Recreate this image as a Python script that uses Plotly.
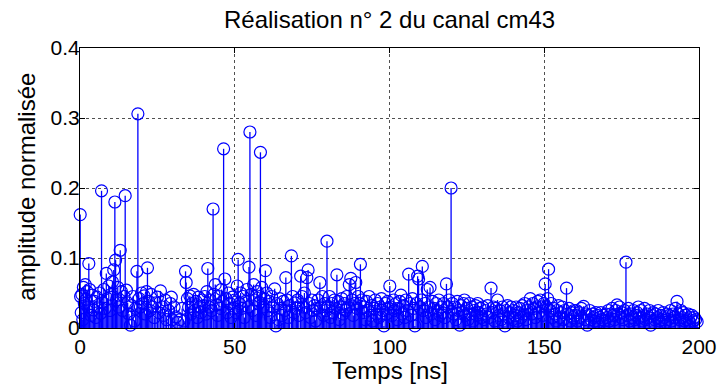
import plotly.graph_objects as go

# ---- data: stem plot, time in ns, normalised amplitude ----
t_seg1 = [0.06, 0.2, 0.4, 0.6, 0.9, 1.1, 1.4, 1.7, 2.0, 2.3, 2.6, 2.85, 3.1, 3.5, 3.9, 4.3, 4.7, 5.1, 5.5, 5.9,
          6.3, 6.7, 6.96, 7.3, 7.7, 8.1, 8.5, 8.9, 9.3, 9.7,
          10.1, 10.5, 10.9, 11.26, 11.5, 11.8, 12.2, 12.6, 13.0, 13.4, 13.8, 14.2, 14.6, 15.0, 15.4, 15.8, 16.3,
          16.7, 17.1, 17.6, 18.0, 18.4, 18.7, 19.1, 19.5, 19.9,
          20.3, 20.7, 21.1, 21.5, 21.8, 22.2, 22.6, 23.0, 23.5, 24.0, 24.5, 25.0, 25.5, 26.0, 26.5, 27.0, 27.5,
          28.0, 28.6, 29.2, 29.5, 29.8,
          30.4, 31.0, 31.6, 32.3, 33.0, 33.6, 34.1, 34.3, 34.7, 35.1, 35.5, 35.9, 36.3, 36.7, 37.1, 37.5, 37.9,
          38.3, 38.7, 39.1, 39.5, 39.9,
          40.3, 40.7, 41.0, 41.3, 41.7, 42.1, 42.5, 43.0, 43.3, 43.7, 44.1, 44.5, 44.9, 45.3, 45.7, 46.1, 46.4,
          46.8, 47.2, 47.6, 48.0, 48.4, 48.8, 49.2, 49.6]
a_seg1 = [0.162, 0.045, 0.022, 0.048, 0.012, 0.058, 0.035, 0.062, 0.041, 0.052, 0.030, 0.092, 0.055, 0.018, 0.047,
          0.026, 0.038, 0.015, 0.044, 0.030, 0.050, 0.021, 0.196, 0.036, 0.055, 0.028, 0.078, 0.042, 0.060, 0.025,
          0.048, 0.066, 0.083, 0.180, 0.097, 0.040, 0.058, 0.030, 0.111, 0.052, 0.025, 0.045, 0.189, 0.054, 0.036,
          0.020, 0.004, 0.032, 0.045, 0.010, 0.028, 0.081, 0.306, 0.042, 0.030, 0.050,
          0.035, 0.046, 0.020, 0.052, 0.086, 0.038, 0.025, 0.048, 0.030, 0.015, 0.036, 0.044, 0.022, 0.053, 0.030,
          0.018, 0.040, 0.012, 0.025, 0.035, 0.044, 0.012,
          0.030, 0.016, 0.008, 0.012, 0.028, 0.010, 0.081, 0.065, 0.042, 0.030, 0.046, 0.020, 0.035, 0.048, 0.025,
          0.038, 0.015, 0.044, 0.030, 0.022, 0.040, 0.032,
          0.045, 0.020, 0.052, 0.085, 0.030, 0.040, 0.025, 0.170, 0.048, 0.062, 0.033, 0.018, 0.045, 0.028, 0.055,
          0.038, 0.256, 0.070, 0.042, 0.022, 0.050, 0.035, 0.015, 0.044, 0.028]

t_seg2 = [50.0, 50.4, 50.8, 51.1, 51.5, 51.9, 52.3, 52.7, 53.1, 53.5, 53.9, 54.3, 54.6, 54.9, 55.3, 55.7, 56.1, 56.5,
          56.9, 57.3, 57.7, 58.0, 58.3, 58.7, 59.1, 59.5, 59.9,
          60.3, 60.7, 61.1, 61.5, 61.9, 62.3, 62.9, 63.3, 63.7, 64.1, 64.5, 64.9, 65.3, 65.7, 66.1, 66.5, 66.9,
          67.3, 67.7, 68.3, 68.7, 69.1, 69.5, 69.9,
          70.3, 70.7, 71.3, 71.7, 72.1, 72.5, 72.9, 73.3, 73.7, 74.1, 74.5, 74.9, 75.3, 75.7, 76.1, 76.5, 76.9,
          77.5, 77.9, 78.3, 78.7, 79.1, 79.5, 79.8,
          80.2, 80.6, 81.0, 81.4, 81.8, 82.2, 82.6, 83.0, 83.4, 83.8, 84.2, 84.6, 85.0, 85.4, 85.8, 86.2, 86.6,
          87.0, 87.5, 87.9, 88.3, 88.7, 89.1, 89.5, 89.9,
          90.3, 90.6, 91.0, 91.4, 91.8, 92.2, 92.6, 93.0, 93.4, 93.8, 94.2, 94.6, 95.0, 95.4, 95.8, 96.2, 96.6,
          97.0, 97.4, 97.8, 98.2, 98.6, 99.0, 99.4, 99.8]
a_seg2 = [0.040, 0.022, 0.060, 0.098, 0.035, 0.050, 0.028, 0.045, 0.015, 0.038, 0.055, 0.030, 0.087, 0.280, 0.048,
          0.025, 0.062, 0.040, 0.018, 0.052, 0.035, 0.045, 0.251, 0.058, 0.030, 0.042, 0.082,
          0.050, 0.025, 0.038, 0.015, 0.045, 0.030, 0.056, 0.003, 0.035, 0.012, 0.042, 0.028, 0.018, 0.038, 0.025,
          0.072, 0.040, 0.015, 0.032, 0.103, 0.045, 0.022, 0.036, 0.028,
          0.040, 0.018, 0.074, 0.045, 0.030, 0.050, 0.022, 0.072, 0.083, 0.035, 0.015, 0.040, 0.025, 0.032, 0.010,
          0.028, 0.040, 0.065, 0.030, 0.045, 0.018, 0.035, 0.025, 0.124,
          0.030, 0.045, 0.015, 0.035, 0.022, 0.040, 0.028, 0.076, 0.038, 0.012, 0.030, 0.042, 0.020, 0.035, 0.025,
          0.045, 0.030, 0.062, 0.071, 0.040, 0.018, 0.035, 0.065, 0.028, 0.045,
          0.035, 0.091, 0.040, 0.022, 0.030, 0.012, 0.038, 0.025, 0.045, 0.018, 0.032, 0.010, 0.028, 0.040, 0.020,
          0.035, 0.015, 0.030, 0.042, 0.025, 0.003, 0.035, 0.020, 0.038, 0.028]

t_seg3 = [100.1, 100.5, 100.9, 101.3, 101.7, 102.1, 102.5, 102.9, 103.3, 103.7, 104.1, 104.5, 104.9, 105.3, 105.7,
          106.2, 106.6, 107.0, 107.4, 107.8, 108.2, 108.6, 109.1, 109.4, 109.8,
          110.2, 110.6, 111.0, 111.4, 111.8, 112.2, 112.6, 113.1, 113.5, 113.9, 114.3, 114.7, 115.1, 115.5, 115.9,
          116.3, 116.7, 117.1, 117.5, 117.9, 118.4, 118.8, 119.2, 119.9,
          120.3, 120.7, 121.1, 121.5, 121.9, 122.3, 122.7, 123.1, 123.5, 123.9, 124.2, 124.6, 125.0, 125.4, 125.8,
          126.2, 126.6, 127.0, 127.4, 127.8, 128.2, 128.5, 128.9, 129.3, 129.7,
          130.1, 130.5, 130.9, 131.3, 131.7, 132.1, 132.8, 133.2, 133.6, 134.0, 134.4, 134.9, 135.3, 135.7, 136.1,
          136.5, 136.9, 137.3, 137.7, 138.1, 138.5, 138.9, 139.3, 139.7,
          140.1, 140.5, 140.9, 141.3, 141.7, 142.1, 142.5, 142.9, 143.3, 143.7, 144.1, 144.5, 144.9, 145.5, 145.9,
          146.3, 146.7, 147.1, 147.5, 147.9, 148.3, 148.7, 149.1, 149.5, 149.9]
a_seg3 = [0.060, 0.030, 0.018, 0.040, 0.025, 0.035, 0.012, 0.028, 0.038, 0.047, 0.020, 0.032, 0.015, 0.040, 0.025,
          0.077, 0.035, 0.018, 0.042, 0.028, 0.003, 0.035, 0.074, 0.070, 0.030,
          0.040, 0.088, 0.025, 0.035, 0.015, 0.055, 0.030, 0.058, 0.020, 0.038, 0.028, 0.012, 0.035, 0.025, 0.040,
          0.018, 0.030, 0.022, 0.035, 0.015, 0.063, 0.030, 0.040, 0.200,
          0.035, 0.020, 0.030, 0.012, 0.038, 0.025, 0.004, 0.032, 0.022, 0.035, 0.040, 0.018, 0.028, 0.012, 0.035,
          0.020, 0.030, 0.010, 0.025, 0.032, 0.018, 0.035, 0.022, 0.028, 0.015,
          0.030, 0.012, 0.025, 0.020, 0.032, 0.015, 0.057, 0.022, 0.030, 0.010, 0.028, 0.040, 0.018, 0.025, 0.012,
          0.030, 0.020, 0.003, 0.025, 0.032, 0.015, 0.022, 0.030, 0.012,
          0.025, 0.018, 0.030, 0.010, 0.022, 0.028, 0.015, 0.032, 0.020, 0.035, 0.012, 0.025, 0.030, 0.042, 0.020,
          0.035, 0.028, 0.015, 0.030, 0.038, 0.022, 0.040, 0.030, 0.018, 0.035]

t_seg4 = [150.3, 150.7, 151.1, 151.4, 151.8, 152.2, 152.6, 153.0, 153.4, 153.8, 154.2, 154.6, 155.0, 155.4, 155.8,
          156.2, 156.6, 157.2, 157.6, 158.0, 158.4, 158.8, 159.2, 159.6,
          160.0, 160.4, 160.8, 161.2, 161.6, 162.0, 162.7, 163.1, 163.5, 163.9, 164.3, 164.7, 165.1, 165.5, 165.9,
          166.3, 166.7, 167.1, 167.5, 167.9, 168.3, 168.7, 169.1, 169.5, 169.9,
          170.3, 170.7, 171.1, 171.5, 171.9, 172.3, 172.7, 173.1, 173.5, 173.9, 174.3, 174.7, 175.1, 175.5, 175.9,
          176.4, 176.8, 177.2, 177.6, 178.0, 178.4, 178.8, 179.2, 179.6,
          180.0, 180.4, 180.8, 181.2, 181.6, 182.0, 182.4, 182.8, 183.2, 183.6, 184.0, 184.4, 184.8, 185.2, 185.6,
          186.0, 186.4, 186.8, 187.2, 187.6, 188.0, 188.4, 188.8, 189.2, 189.6,
          190.0, 190.4, 190.8, 191.2, 191.6, 192.0, 192.4, 192.9, 193.3, 193.7, 194.1, 194.5, 194.9, 195.3, 195.7,
          196.1, 196.5, 196.9, 197.3, 197.7, 198.1, 198.5, 198.9, 199.4]
a_seg4 = [0.063, 0.030, 0.042, 0.084, 0.025, 0.035, 0.015, 0.028, 0.020, 0.010, 0.025, 0.032, 0.015, 0.022, 0.030,
          0.012, 0.025, 0.057, 0.020, 0.028, 0.010, 0.022, 0.015, 0.025,
          0.018, 0.025, 0.010, 0.022, 0.015, 0.028, 0.031, 0.012, 0.020, 0.004, 0.018, 0.025, 0.012, 0.020, 0.015,
          0.010, 0.022, 0.018, 0.008, 0.015, 0.022, 0.012, 0.018, 0.010, 0.020,
          0.015, 0.025, 0.010, 0.020, 0.028, 0.018, 0.012, 0.025, 0.033, 0.020, 0.030, 0.015, 0.022, 0.012, 0.025,
          0.094, 0.018, 0.028, 0.010, 0.020, 0.015, 0.025, 0.012, 0.018,
          0.022, 0.030, 0.015, 0.025, 0.010, 0.018, 0.028, 0.012, 0.020, 0.015, 0.025, 0.004, 0.018, 0.022, 0.012,
          0.020, 0.015, 0.025, 0.010, 0.018, 0.012, 0.022, 0.015, 0.008, 0.020,
          0.012, 0.018, 0.025, 0.010, 0.020, 0.015, 0.028, 0.038, 0.020, 0.012, 0.025, 0.015, 0.022, 0.010, 0.018,
          0.012, 0.020, 0.008, 0.015, 0.018, 0.010, 0.015, 0.012, 0.009]

x_ticks = [0, 50, 100, 150, 200]
y_ticks = [0, 0.1, 0.2, 0.3, 0.4]
y_tick_labels = ["0", "0.1", "0.2", "0.3", "0.4"]

title_text = "Réalisation n° 2 du canal cm43"
x_title = "Temps [ns]"
y_title = "amplitude normalisée"

time_ns = t_seg1 + t_seg2 + t_seg3 + t_seg4
amplitude = a_seg1 + a_seg2 + a_seg3 + a_seg4

BLUE = "rgb(0,0,255)"
FONT = "Liberation Sans, Arial, Helvetica, sans-serif"

fig = go.Figure()
fig.add_trace(go.Scatter(
    x=time_ns, y=amplitude, mode="markers",
    marker=dict(symbol="circle-open", size=12, color=BLUE, line=dict(width=1.2, color=BLUE)),
    error_y=dict(type="data", symmetric=False, array=[0] * len(amplitude), arrayminus=amplitude,
                 width=0, thickness=1.3, color=BLUE),
    cliponaxis=False, showlegend=False, hoverinfo="x+y",
))

fig.update_layout(
    width=721, height=387,
    margin=dict(l=80, r=22, t=48, b=59, autoexpand=False),
    paper_bgcolor="white", plot_bgcolor="white",
    font=dict(family=FONT, color="black", size=21),
    annotations=[
        dict(text=title_text, xref="paper", yref="paper", x=0.5008, y=1.102, xanchor="center", yanchor="middle",
             showarrow=False, font=dict(size=24, family=FONT, color="black")),
        dict(text=x_title, xref="paper", yref="paper", x=0.5, y=-0.15, xanchor="center", yanchor="middle",
             showarrow=False, font=dict(size=24, family=FONT, color="black")),
        dict(text=y_title, xref="paper", yref="paper", x=-0.087, y=0.505, xanchor="center", yanchor="middle",
             textangle=-90, showarrow=False, font=dict(size=24, family=FONT, color="black")),
    ],
)
fig.update_xaxes(
    range=[0, 200], tickvals=x_ticks, ticktext=[str(v) for v in x_ticks],
    ticks="inside", ticklen=5, tickcolor="black",
    showline=True, linecolor="black", linewidth=1, mirror="ticks",
    showgrid=True, gridcolor="rgb(80,80,80)", griddash="dot", gridwidth=1,
    zeroline=False, tickfont=dict(size=21), ticklabelstandoff=0, automargin=False,
)
fig.update_yaxes(
    range=[0, 0.4], tickvals=y_ticks, ticktext=y_tick_labels,
    ticks="inside", ticklen=5, tickcolor="black",
    showline=True, linecolor="black", linewidth=1, mirror="ticks",
    showgrid=True, gridcolor="rgb(80,80,80)", griddash="dot", gridwidth=1,
    zeroline=False, tickfont=dict(size=21), ticklabelstandoff=-5, automargin=False,
)

# remove the browser's default 8px page margin so the figure sits at the window's top-left corner
fig.write_html("out.html", config={"displayModeBar": False},
               post_script="document.body.style.margin='0';document.body.style.overflow='hidden';")
